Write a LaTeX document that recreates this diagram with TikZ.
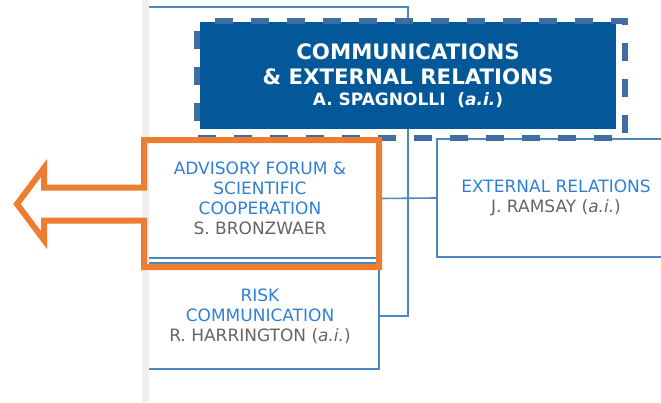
\documentclass[tikz,border=0pt]{standalone}
\usepackage{fontspec}
\setmainfont{DejaVu Sans}
\definecolor{hdfill}{RGB}{2,88,152}
\definecolor{hddash}{RGB}{65,110,160}
\definecolor{ln}{RGB}{74,136,190}
\definecolor{org}{RGB}{237,125,49}
\definecolor{txb}{RGB}{46,128,214}
\definecolor{txg}{RGB}{100,100,100}
\definecolor{bandc}{RGB}{239,239,239}
\begin{document}
\begin{tikzpicture}[x=1pt,y=-1pt,
  conn/.style={draw=ln,line width=1.6pt},
  unitbox/.style={inner sep=0pt,minimum width=238pt,align=center,text=txb,
    font=\fontsize{17}{20}\selectfont},
  headbox/.style={fill=hdfill,inner sep=0pt,minimum width=416pt,minimum height=107pt,
    text=white,align=center,font=\bfseries\fontsize{21.3}{25}\selectfont},
  dashframe/.style={draw=hddash,line width=5.5pt,dash pattern=on 18pt off 18pt,dash phase=18pt},
  highlight/.style={draw=org,line width=6pt,line join=miter}]
\useasboundingbox (0,0) rectangle (661,402);
% grey band
\fill[bandc] (142,0) rectangle (149,402);
\coordinate (bandtop) at (149,7);
% nodes
\node[headbox] (head) at (408,75.5) {COMMUNICATIONS\\\& EXTERNAL RELATIONS\\[-4pt]{\fontsize{17}{20}\selectfont A. SPAGNOLLI\ \ (\textit{a.i.})}};
\node[unitbox,minimum height=119pt] (adv) at (260,198.5) {ADVISORY FORUM \&\\SCIENTIFIC\\COOPERATION\\{\color{txg}S. BRONZWAER}};
\node[unitbox,minimum height=118pt,draw=ln,line width=1.6pt] (ext) at (556,198) {EXTERNAL RELATIONS\\{\color{txg}J. RAMSAY (\textit{a.i.})}};
\node[unitbox,minimum height=106pt] (risk) at (260,316) {RISK\\COMMUNICATION\\{\color{txg}R. HARRINGTON (\textit{a.i.})}};
% connectors
\draw[conn] (bandtop) -| (head.north);
\draw[conn] (head.south) |- (risk.east);
\draw[conn] (adv.east) -- (ext.west);
\draw[conn] (adv.south west -| bandtop) -- (adv.south east);
\draw[conn] (risk.north west -| bandtop) -- (risk.north east) -- (risk.south east) -- (risk.south west -| bandtop);
% dashed frame round the head box
\draw[dashframe] (197,21) -- (625,21) -- (625,138) -- (197,138) -- cycle;
% orange highlight with arrow
\draw[highlight] (144,187.5) -- (144,140) -- (379,140) -- (379,267) -- (144,267) -- (144,220.5)
  -- (44,220.5) -- (44,240) -- (17,204) -- (44,168) -- (44,187.5) -- cycle;
\end{tikzpicture}
\end{document}
